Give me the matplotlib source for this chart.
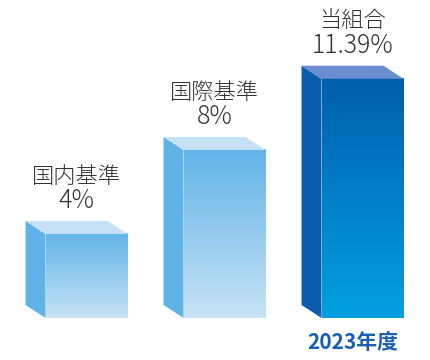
import numpy as np
import matplotlib.pyplot as plt
from matplotlib.colors import LinearSegmentedColormap
from matplotlib.patches import Polygon

plt.rcParams['font.family'] = ['Noto Sans CJK JP', 'DejaVu Sans']

# data
labels = ['国内基準', '国際基準', '当組合']
values = [4, 8, 11.39]
value_text = ['4%', '8%', '11.39%']
year_label = '2023年度'

# colours per bar: (front top, front bottom, side, top face)
light = ('#62b4e7', '#c8e3f6', '#5fb3e6', '#c6e1f6')
dark = ('#005eae', '#03a0e0', '#0a5cae', '#6b8ed0')
bar_colors = [light, light, dark]

fig = plt.figure(figsize=(4.3, 3.6), dpi=100)
ax = fig.add_axes([0, 0, 1, 1])
ax.set_xlim(-0.627, 2.489)
ax.set_ylim(-2.0, 15.14)
ax.axis('off')

w = 0.594      # front face width
dx = -0.145    # depth offset (to the left)
dy = 0.62      # depth offset (upwards)

x = np.arange(len(values))
grad = np.linspace(0, 1, 256).reshape(-1, 1)

for xi, v, (c_top, c_bot, c_side, c_lid) in zip(x, values, bar_colors):
    l, r = xi - w / 2, xi + w / 2
    cmap = LinearSegmentedColormap.from_list('g', [c_bot, c_top])
    ax.imshow(grad, extent=(l, r, 0, v), origin='lower', cmap=cmap,
              aspect='auto', zorder=2, interpolation='bilinear')
    side = Polygon([(l, 0), (l + dx, dy), (l + dx, v + dy), (l, v)],
                   closed=True, facecolor=c_side, edgecolor='none', zorder=2)
    lid = Polygon([(l, v), (l + dx, v + dy), (r + dx, v + dy), (r, v)],
                  closed=True, facecolor=c_lid, edgecolor='none', zorder=2)
    ax.add_patch(side)
    ax.add_patch(lid)

for xi, v, name, vt in zip(x, values, labels, value_text):
    # value line, then the name above it
    ax.annotate(vt, xy=(xi + dx / 2, v + dy), xytext=(0, 5),
                textcoords='offset points', ha='center', va='bottom',
                fontsize=18, color='#333333', fontweight='light')
    ax.annotate(name, xy=(xi + dx / 2, v + dy), xytext=(0, 24),
                textcoords='offset points', ha='center', va='bottom',
                fontsize=16, color='#333333', fontweight='light')

ax.annotate(year_label, xy=(x[-1] + dx / 2, 0), xytext=(0, -10),
            textcoords='offset points', ha='center', va='top',
            fontsize=15, color='#1a5fb0', fontweight='bold')

fig.savefig('out.png', dpi=100)
